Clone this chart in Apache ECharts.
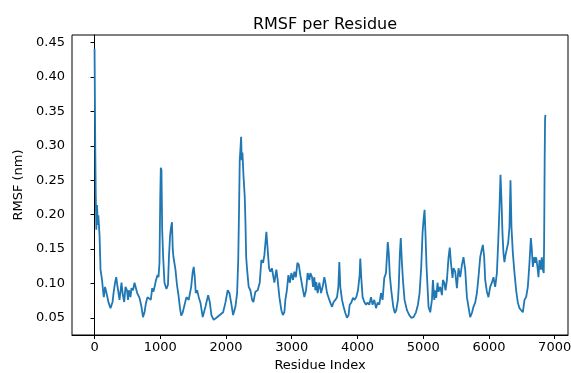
<!DOCTYPE html>
<html>
<head>
<meta charset="utf-8">
<script src="https://cdn.jsdelivr.net/npm/echarts@6/dist/echarts.min.js"></script>
<style>html,body{margin:0;padding:0;background:#fff}#c{width:571px;height:373px}</style>
</head>
<body>
<div id="c"></div>
<script>
var titleText = "RMSF per Residue";
var xLabel = "Residue Index";
var yLabel = "RMSF (nm)";
var xTicks = [0, 1000, 2000, 3000, 4000, 5000, 6000, 7000];
var yTicks = [0.05, 0.10, 0.15, 0.20, 0.25, 0.30, 0.35, 0.40, 0.45];

var residueIndex = [
0,11,18,27,38,49,58,76,91,114,
129,141,160,182,213,243,274,289,312,330,
350,380,410,426,451,471,494,509,524,547,
562,585,608,649,684,714,737,760,783,806,
836,856,877,897,920,935,958,973,988,999,
1008,1018,1029,1044,1064,1094,1117,1132,1148,1163,
1178,1190,1201,1216,1231,1254,1277,1300,1318,1342,
1368,1398,1433,1470,1494,1509,1525,1540,1561,1585,
1611,1646,1687,1728,1753,1778,1813,1854,1905,1956,
1991,2026,2052,2078,2108,2143,2169,2186,2199,2209,
2219,2230,2239,2250,2265,2285,2295,2307,2321,2345,
2371,2397,2417,2447,2482,2513,2538,2564,2584,2614,
2634,2655,2675,2698,2716,2736,2766,2786,2812,2842,
2865,2888,2903,2926,2949,2972,2994,3020,3040,3063,
3086,3108,3131,3162,3192,3218,3242,3268,3283,3309,
3324,3344,3359,3374,3394,3420,3446,3470,3496,3511,
3537,3561,3587,3613,3637,3663,3689,3709,3724,3739,
3765,3789,3815,3841,3865,3881,3906,3932,3957,3982,
4008,4033,4043,4058,4078,4104,4130,4154,4180,4206,
4230,4256,4282,4306,4332,4358,4382,4408,4434,4461,
4476,4492,4514,4545,4568,4590,4616,4628,4644,4659,
4674,4692,4716,4753,4788,4818,4853,4890,4920,4945,
4970,4990,5005,5021,5036,5051,5066,5081,5107,5133,
5148,5168,5183,5198,5218,5233,5259,5285,5300,5320,
5340,5361,5385,5404,5422,5446,5461,5487,5513,5537,
5563,5589,5613,5639,5665,5689,5715,5741,5765,5791,
5817,5841,5867,5890,5908,5928,5943,5969,5993,6019,
6045,6069,6095,6121,6141,6161,6176,6191,6206,6221,
6236,6252,6273,6293,6313,6328,6343,6364,6389,6414,
6440,6465,6490,6516,6541,6566,6592,6613,6638,6653,
6668,6688,6703,6718,6738,6754,6769,6790,6805,6820,
6834,6840,6848,6854,6859
];

var rmsf = [
0.441,0.294,0.231,0.178,0.214,0.185,0.199,0.170,0.120,0.105,
0.090,0.080,0.095,0.086,0.072,0.064,0.073,0.086,0.101,0.109,
0.095,0.076,0.101,0.086,0.073,0.095,0.090,0.076,0.090,0.080,
0.093,0.090,0.101,0.086,0.079,0.066,0.051,0.058,0.072,0.080,
0.080,0.076,0.093,0.088,0.098,0.105,0.112,0.109,0.130,0.221,
0.268,0.265,0.178,0.138,0.101,0.092,0.098,0.138,0.168,0.181,
0.189,0.149,0.138,0.137,0.120,0.098,0.083,0.064,0.053,0.058,
0.057,0.080,0.076,0.095,0.117,0.124,0.109,0.086,0.090,0.080,
0.072,0.051,0.066,0.083,0.073,0.054,0.047,0.050,0.054,0.058,
0.072,0.090,0.086,0.072,0.054,0.066,0.086,0.134,0.211,0.279,
0.294,0.313,0.279,0.290,0.258,0.226,0.192,0.138,0.120,0.095,
0.090,0.076,0.073,0.088,0.090,0.101,0.134,0.130,0.141,0.175,
0.149,0.122,0.117,0.122,0.120,0.101,0.120,0.105,0.080,0.061,
0.054,0.058,0.076,0.090,0.112,0.101,0.115,0.105,0.117,0.109,
0.130,0.127,0.112,0.095,0.080,0.090,0.115,0.105,0.115,0.109,
0.095,0.109,0.090,0.102,0.086,0.101,0.086,0.095,0.109,0.102,
0.086,0.079,0.072,0.066,0.073,0.076,0.080,0.095,0.131,0.095,
0.076,0.066,0.057,0.050,0.054,0.069,0.072,0.079,0.076,0.080,
0.090,0.112,0.136,0.108,0.080,0.073,0.069,0.072,0.069,0.080,
0.069,0.076,0.064,0.072,0.069,0.086,0.076,0.108,0.115,0.160,
0.144,0.112,0.090,0.066,0.057,0.061,0.076,0.095,0.141,0.166,
0.134,0.105,0.076,0.061,0.054,0.050,0.051,0.058,0.069,0.086,
0.124,0.173,0.192,0.207,0.168,0.124,0.095,0.066,0.058,0.076,
0.105,0.076,0.090,0.079,0.101,0.088,0.095,0.083,0.105,0.101,
0.090,0.105,0.137,0.152,0.130,0.108,0.122,0.117,0.093,0.122,
0.109,0.127,0.138,0.120,0.080,0.066,0.051,0.057,0.066,0.072,
0.086,0.109,0.138,0.149,0.156,0.138,0.105,0.088,0.080,0.095,
0.101,0.109,0.095,0.115,0.159,0.211,0.258,0.221,0.173,0.144,
0.131,0.141,0.141,0.159,0.182,0.250,0.182,0.144,0.115,0.090,
0.072,0.064,0.061,0.058,0.076,0.080,0.095,0.124,0.166,0.149,
0.124,0.138,0.130,0.138,0.124,0.109,0.134,0.120,0.138,0.120,
0.115,0.163,0.279,0.338,0.345
];

var seriesData = residueIndex.map(function (x, i) { return [x, rmsf[i]]; });

var font = "DejaVu Sans";
var chart = echarts.init(document.getElementById('c'), null, {renderer: 'canvas'});
chart.setOption({
  animation: false,
  backgroundColor: '#ffffff',
  title: {
    text: titleText,
    left: 320, top: 12, textAlign: 'center',
    textStyle: {fontFamily: font, fontSize: 16, fontWeight: 'normal', color: '#000'}
  },
  grid: {left: 72, right: 3, top: 35, bottom: 38, show: true, borderColor: '#000', borderWidth: 1,
    backgroundColor: 'transparent', containLabel: false, outerBoundsMode: 'none'},
  xAxis: {
    type: 'value', min: -343, max: 7203,
    name: xLabel, nameLocation: 'middle', nameGap: 24,
    nameTextStyle: {fontFamily: font, fontSize: 13, color: '#000'},
    axisLine: {show: true, lineStyle: {color: '#000', width: 1}},
    axisTick: {show: true, length: 4, customValues: xTicks, lineStyle: {color: '#000', width: 1}},
    axisLabel: {customValues: xTicks, fontFamily: font, fontSize: 13, color: '#000', margin: 6,
      hideOverlap: false, formatter: function (v) { return String(v); }},
    splitLine: {show: false}
  },
  yAxis: {
    type: 'value', min: 0.025, max: 0.461,
    name: yLabel, nameLocation: 'middle', nameGap: 44, nameRotate: 90,
    nameTextStyle: {fontFamily: font, fontSize: 13, color: '#000'},
    axisLine: {show: true, lineStyle: {color: '#000', width: 1}},
    axisTick: {show: true, length: 4, customValues: yTicks, lineStyle: {color: '#000', width: 1}},
    axisLabel: {customValues: yTicks, fontFamily: font, fontSize: 13, color: '#000', margin: 7,
      formatter: function (v) { return v.toFixed(2); }},
    splitLine: {show: false}
  },
  series: [{
    type: 'line', data: seriesData, showSymbol: false, symbol: 'none',
    lineStyle: {color: '#1f77b4', width: 1.8}, itemStyle: {color: '#1f77b4'},
    sampling: null, silent: true
  }]
});
</script>
</body>
</html>
